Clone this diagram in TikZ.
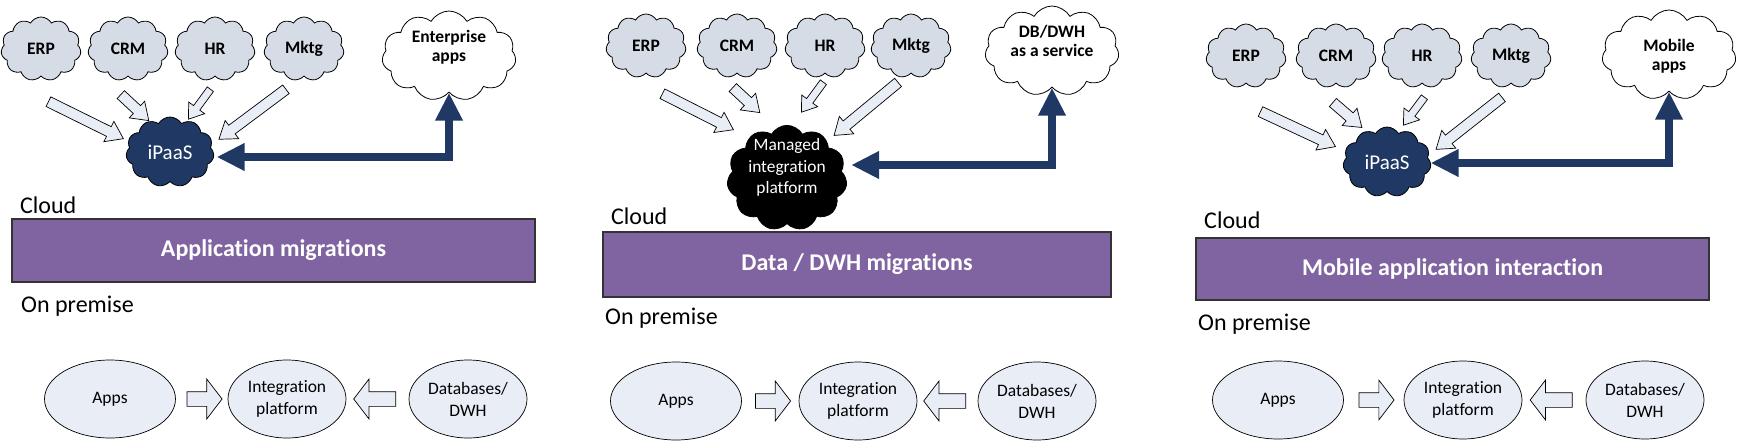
\documentclass[tikz,border=0pt]{standalone}
\usepackage{fontspec}
\setmainfont{Carlito}[Ligatures={TeX,NoCommon}]
\usetikzlibrary{shapes.symbols,shapes.arrows,shapes.geometric,arrows.meta,calc}

\definecolor{appfill}{RGB}{214,220,229}
\definecolor{navy}{RGB}{31,56,100}
\definecolor{bandfill}{RGB}{128,100,162}
\definecolor{premfill}{RGB}{232,237,246}

% text block lifted inside a cloud, size kept
\def\cloudlbl#1#2{\raisebox{#1}[\height][\depth]{\begin{tabular}{@{}c@{}}#2\end{tabular}}}

\begin{document}
\begin{tikzpicture}[x=1pt,y=-1pt]
    \tikzstyle{app}=[cloud, cloud puffs=11, cloud puff arc=120, cloud ignores aspect, draw=black, line width=0.8pt, fill=appfill, inner sep=0pt, minimum width=80pt, minimum height=64pt, font=\fontsize{17.5}{19}\selectfont\bfseries]
    \tikzstyle{target}=[app, fill=white, minimum width=134pt, minimum height=90pt]
    \tikzstyle{hub}=[app, fill=navy, text=white, font=\fontsize{21}{24}\selectfont, minimum width=88pt, minimum height=70pt]
    \tikzstyle{premise}=[ellipse, draw=black, line width=0.7pt, fill=premfill, inner sep=0pt, align=center, minimum height=78pt, font=\fontsize{17.5}{22}\selectfont]
    \tikzstyle{usecase}=[draw=black!80, line width=1.2pt, fill=bandfill, text=white, inner sep=0pt, font=\fontsize{24}{28}\selectfont\bfseries]
    \tikzstyle{zone}=[anchor=base west, inner sep=0pt, font=\fontsize{24}{28}\selectfont]
    \tikzstyle{feed}=[single arrow, draw=black, fill=premfill, line width=0.7pt, inner xsep=0pt, single arrow head extend=6pt, single arrow tip angle=70, sloped, allow upside down]
    \tikzstyle{flow}=[single arrow, draw=black, fill=premfill, line width=0.7pt, inner xsep=0pt, inner ysep=7pt, minimum height=35pt, single arrow head extend=12.5pt, single arrow tip angle=105]
    \tikzstyle{link}=[draw=navy, line width=7.5pt, {Triangle[length=28pt,width=26pt]}-{Triangle[length=28pt,width=26pt]}]

    \useasboundingbox (0,0) rectangle (1737,441);

    % cloud side
    \foreach \name / \x in {ERP/41, CRM/128, HR/215, Mktg/304}
        \node[app] (\name-1) at (\x,49) {\name};
    \foreach \name / \x in {ERP/646, CRM/737, HR/825, Mktg/911}
        \node[app] (\name-2) at (\x,46) {\name};
    \foreach \name / \x in {ERP/1246, CRM/1336, HR/1422, Mktg/1511}
        \node[app] (\name-3) at (\x,56) {\name};

    \node[hub] (Hub-1) at (170,152) {iPaaS};
    \node[hub, fill=black, font=\fontsize{17.4}{21.5}\selectfont, minimum width=113pt, minimum height=100pt] (Hub-2) at (787,178) {\cloudlbl{10pt}{Managed\\integration\\platform}};
    \node[hub] (Hub-3) at (1387,162) {iPaaS};

    \node[target] (Target-1) at (449,56) {\cloudlbl{8pt}{Enterprise\\apps}};
    \node[target] (Target-2) at (1052,51) {\cloudlbl{8pt}{DB/DWH\\as a service}};
    \node[target] (Target-3) at (1669,55) {\cloudlbl{-2pt}{Mobile\\apps}};

    % shaft half widths: 5pt, thinner for HR
    \foreach \name / \sx / \sy / \tx / \ty / \w in {ERP-1/45/100/120/137/5, CRM-1/118/92/146/118/5, HR-1/212/87/190/117/3.5, Mktg-1/289/87/222/137/5,
        ERP-2/659/92/730/128/5, CRM-2/730/85/757/110/5, HR-2/825/80/803/110/3.5, Mktg-2/901/80/837/133/5,
        ERP-3/1257/110/1332/145/5, CRM-3/1330/100/1359/125/5, HR-3/1426/95/1405/123/3.5, Mktg-3/1505/95/1439/147/5}
    {
        \coordinate (\name-s) at (\sx,\sy);
        \coordinate (\name-t) at (\tx,\ty);
        \path let \p1=($(\name-t)-(\name-s)$), \n1={veclen(\x1,\y1)} in
            (\name-s) -- node[feed, minimum height=\n1, inner ysep=\w] {} (\name-t);
    }

    \foreach \i / \dx / \dy in {1/3/5, 2/5/-13, 3/0/1}
        \draw[link] (Target-\i.south) |- ($(Hub-\i.east)+(\dx,\dy)$);

    % the three use cases
    \node[usecase, minimum width=523pt, minimum height=63pt] (Case-1) at (273.5,250.5) {Application migrations};
    \node[usecase, minimum width=508pt, minimum height=65pt] (Case-2) at (857,264.5) {Data / DWH migrations};
    \node[usecase, minimum width=513pt, minimum height=62pt] (Case-3) at (1452.5,269) {Mobile application interaction};

    \foreach \i / \x / \yc / \xp / \yp in {1/20/213/21/312, 2/611/224/605/324, 3/1204/228/1198/330}
    {
        \node[zone] (Cloud-\i) at (\x,\yc) {Cloud};
        \node[zone] (Prem-\i) at (\xp,\yp) {On premise};
    }

    % on premise side
    \foreach \i / \a / \b / \c / \y in {1/110/287/468/399, 2/676/858/1037/401, 3/1278/1463/1645/400}
    {
        \node[premise, minimum width=131pt] (Apps-\i) at (\a,\y) {Apps};
        \node[premise, minimum width=118pt] (Int-\i) at (\b,\y) {Integration\\platform};
        \node[premise, minimum width=118pt] (DB-\i) at (\c,\y) {Databases/\\DWH};
        \path (Apps-\i.east) -- node[flow] {} (Int-\i.west);
        \path (Int-\i.east) -- node[flow, rotate=180, minimum height=42pt] {} (DB-\i.west);
    }
\end{tikzpicture}
\end{document}
